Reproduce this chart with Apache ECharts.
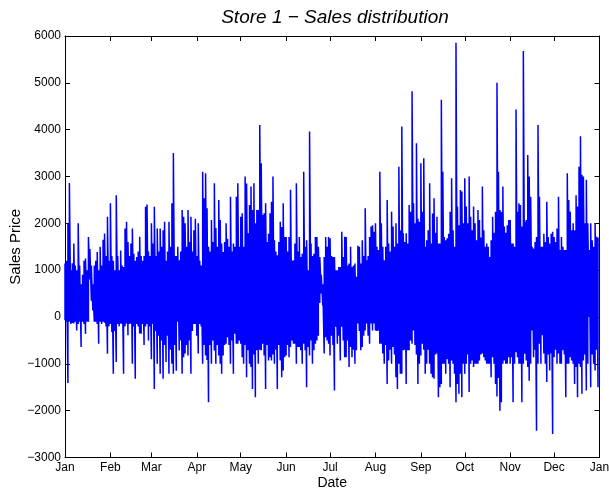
<!DOCTYPE html>
<html>
<head>
<meta charset="utf-8">
<script src="https://cdn.jsdelivr.net/npm/echarts@6/dist/echarts.min.js"></script>
<style>
  html, body { margin: 0; padding: 0; background: #ffffff; }
  #chart { width: 609px; height: 491px; }
</style>
</head>
<body>
<div id="chart"></div>
<script>
// Month tick labels and the day-of-year where each month starts
const monthLabels = ['Jan', 'Feb', 'Mar', 'Apr', 'May', 'Jun', 'Jul', 'Aug', 'Sep', 'Oct', 'Nov', 'Dec', 'Jan'];
const monthStarts = [0, 31, 59, 90, 120, 151, 181, 212, 243, 273, 304, 334, 365];

// Highest sale price recorded on each day of the year (day 0 = Jan 1)
const dailyHigh = [
  1140, 1200, 2000, 2860, 1000, 1150, 1570, 1100, 1000, 2000,
  1100, 700, 900, 1200, 1250, 1000, 1710, 1450, 1100, 700,
  1100, 1200, 1390, 1000, 1500, 1100, 1650, 1785, 1300, 2140,
  1200, 2430, 1300, 1200, 1000, 2600, 1300, 1000, 1420, 1100,
  1070, 1890, 2035, 1600, 1300, 1570, 1890, 1350, 1200, 1280,
  1400, 1713, 1300, 1200, 1300, 2356, 2400, 1400, 1300, 2000,
  1570, 2356, 1300, 1890, 1400, 1890, 1500, 1850, 2035, 1200,
  1400, 2035, 1500, 2430, 3500, 1300, 1300, 1500, 1210, 1400,
  2285, 2140, 2000, 1500, 2285, 1600, 2140, 1400, 1850, 2100,
  1300, 2000, 1200, 1100, 3100, 2535, 3070, 2320, 1500, 1400,
  2070, 1600, 2856, 1900, 1500, 2500, 2070, 1570, 1390, 1600,
  2000, 1670, 1500, 2570, 1400, 1570, 1500, 2570, 2856, 1500,
  2140, 2213, 1500, 3000, 2850, 1790, 2390, 2785, 2285, 2856,
  2000, 2285, 2285, 4100, 3285, 2180, 2213, 2430, 1600, 1780,
  2213, 2460, 3000, 1640, 1400, 1320, 1600, 2035, 1920, 2430,
  1710, 1710, 1400, 1710, 2715, 1200, 1210, 1570, 2856, 1400,
  1710, 1280, 1350, 3100, 1500, 1640, 1000, 3960, 1570, 1300,
  1350, 1710, 1710, 1500, 1280, 900, 700, 1280, 1710, 1500,
  1710, 1680, 1300, 1280, 1280, 1000, 1000, 1070, 1070, 1820,
  1280, 1714, 1710, 1100, 1140, 1500, 1070, 1100, 1140, 860,
  1520, 1500, 1140, 1640, 1300, 2320, 1210, 1300, 1710, 1930,
  1960, 1820, 2000, 1500, 1430, 3100, 2000, 1500, 1210, 1500,
  2500, 1570, 1400, 2250, 1930, 1500, 2000, 1570, 3210, 1850,
  4070, 1790, 1600, 1790, 1570, 2390, 2250, 4820, 2430, 2000,
  3710, 2100, 2035, 3285, 2250, 3390, 1500, 1640, 1850, 2856,
  1570, 2210, 2535, 1800, 2140, 1570, 1570, 4640, 3100, 1710,
  1640, 1680, 1780, 2250, 2960, 1850, 1500, 5855, 2360, 1960,
  2710, 2680, 2000, 2960, 2360, 2000, 3000, 2140, 1850, 2360,
  2000, 1640, 2285, 2070, 1700, 2785, 1850, 1500, 1570, 1500,
  1280, 1640, 2140, 1800, 2250, 5000, 3100, 2285, 2250, 2785,
  1930, 1800, 1960, 2070, 2070, 1570, 1570, 1500, 4430, 2250,
  2430, 2390, 1930, 5680, 2035, 2070, 3460, 3000, 2570, 1500,
  1460, 1600, 1710, 4100, 2570, 1500, 1500, 1780, 1600, 2460,
  1710, 1570, 1780, 1820, 1710, 1600, 1890, 2570, 1430, 1710,
  1500, 1430, 1430, 3070, 2500, 2250, 1850, 2000, 1850, 2600,
  2360, 3210, 3860, 3035, 3000, 2000, 2930, 2000, 1430, 2000,
  1640, 1500, 2000, 1714, 1700
];

// Lowest sale price (returns go negative) recorded on each day
const dailyLow = [
  -70, -100, -1410, -100, -150, -130, -140, -100, -290, -150,
  -100, -640, -100, -150, -360, -100, -100, 800, 350, 140,
  -100, -100, -150, -570, -100, -150, -100, -120, -200, -785,
  -200, -150, -320, -1210, -300, -960, -150, -200, -140, -150,
  -1210, -200, -140, -390, -150, -140, -1000, -200, -1320, -150,
  -200, -350, -360, -150, -600, -200, -150, -500, -200, -900,
  -150, -1535, -300, -1000, -400, -1210, -500, -1320, -600, -960,
  -400, -1210, -700, -1000, -1210, -600, -1150, -100, -714, -500,
  -1210, -860, -780, -600, -820, -500, -1210, -300, -150, -150,
  -400, -780, -150, -200, -1000, -600, -820, -920, -1820, -600,
  -1000, -500, -714, -1000, -600, -820, -1000, -1210, -820, -600,
  -570, -430, -600, -1000, -500, -1210, -360, -570, -570, -500,
  -570, -860, -1000, -600, -1285, -710, -1000, -1070, -1535, -800,
  -1714, -710, -1000, -700, -710, -570, -820, -1535, -600, -930,
  -860, -930, -800, -1000, -700, -1535, -600, -930, -1285, -1140,
  -860, -820, -600, -860, -640, -500, -570, -570, -1000, -640,
  -640, -710, -1000, -570, -710, -1500, -640, -820, -500, -1000,
  -710, -570, -500, -400, 300, 500, 250, -780, -430, -500,
  -570, -820, -400, -600, -1570, -210, -570, -400, -930, -210,
  -500, -860, -860, -500, -1070, -640, -860, -700, -1000, -710,
  -140, -300, -710, -640, -400, -290, -140, -400, -570, -140,
  -290, -140, -290, -300, -290, -570, -570, -780, -1000, -600,
  -1430, -930, -700, -1000, -640, -800, -1285, -1535, -1000, -1210,
  -1210, -710, -700, -1430, -710, -710, -500, -570, -290, -600,
  -800, -1430, -1000, -820, -570, -700, -1210, -1000, -700, -1000,
  -1210, -1285, -1320, -800, -780, -1714, -1500, -1430, -1000, -1000,
  -1210, -900, -1000, -1500, -930, -1000, -1210, -1820, -1430, -1640,
  -1210, -1714, -1000, -1210, -1000, -800, -1600, -1000, -930, -1070,
  -1000, -1000, -1000, -930, -800, -780, -860, -930, -1000, -1000,
  -1000, -1285, -860, -1000, -1430, -1700, -1300, -2000, -1820, -1000,
  -930, -1000, -1000, -860, -1000, -860, -1820, -1000, -750, -860,
  -1000, -1000, -1820, -1000, -785, -930, -1070, -1360, -1000, -290,
  -860, -700, -2430, -1000, -570, -1000, -390, -780, -1000, -1390,
  -800, -1140, -780, -2500, -860, -700, -1000, -780, -1000, -1000,
  -710, -800, -1714, -1000, -1000, -860, -930, -1000, -1430, -1070,
  -1714, -1000, -1070, -1640, -930, -800, -1570, -1000, 0, -1500,
  -800, -1000, -1140, -700, -1500
];

// Each day is drawn as a stroke from its low to its high sale
const salesPoints = [];
dailyHigh.forEach((high, day) => {
  salesPoints.push([day, dailyLow[day]], [day, high]);
});

const FONT = '"Liberation Sans", Arial, Helvetica, sans-serif';
const INK = '#000000';

function signed(v) {
  return v < 0 ? '\u2212' + Math.abs(v) : String(v);
}

const frameLine = { show: true, onZero: false, lineStyle: { color: INK, width: 1 } };
const innerTick = { show: true, inside: true, length: 5, lineStyle: { color: INK, width: 1 } };

const chart = echarts.init(document.getElementById('chart'), null, { renderer: 'canvas' });
chart.setOption({
  animation: false,
  backgroundColor: '#ffffff',
  graphic: [{
    type: 'text',
    x: 335,
    y: 18,
    style: {
      text: 'Store 1 \u2212 Sales distribution',
      font: 'italic 19px ' + FONT,
      fill: INK,
      textAlign: 'center',
      textVerticalAlign: 'middle'
    }
  }],
  grid: {
    left: 65, right: 9.5, top: 36, bottom: 33.5,
    containLabel: false,
    outerBoundsMode: 'none'
  },
  xAxis: [{
    type: 'value',
    position: 'bottom',
    min: 0,
    max: 365,
    axisLine: frameLine,
    axisTick: Object.assign({}, innerTick, { customValues: monthStarts }),
    axisLabel: {
      customValues: monthStarts,
      color: INK,
      fontFamily: FONT,
      fontSize: 12,
      margin: 4,
      formatter: (v) => monthLabels[monthStarts.indexOf(v)]
    },
    splitLine: { show: false },
    name: 'Date',
    nameLocation: 'middle',
    nameMoveOverlap: false,
    nameGap: 19,
    nameTextStyle: { color: INK, fontFamily: FONT, fontSize: 14 }
  }, {
    type: 'value',
    position: 'top',
    min: 0,
    max: 365,
    axisLine: frameLine,
    axisTick: Object.assign({}, innerTick, { customValues: monthStarts }),
    axisLabel: { show: false },
    splitLine: { show: false }
  }],
  yAxis: [{
    type: 'value',
    position: 'left',
    min: -3000,
    max: 6000,
    interval: 1000,
    axisLine: frameLine,
    axisTick: innerTick,
    axisLabel: {
      color: INK,
      fontFamily: FONT,
      fontSize: 12,
      margin: 4,
      formatter: signed
    },
    splitLine: { show: false },
    name: 'Sales Price',
    nameLocation: 'middle',
    nameMoveOverlap: false,
    nameGap: 42,
    nameTextStyle: { color: INK, fontFamily: FONT, fontSize: 15 }
  }, {
    type: 'value',
    position: 'right',
    min: -3000,
    max: 6000,
    interval: 1000,
    axisLine: frameLine,
    axisTick: innerTick,
    axisLabel: { show: false },
    splitLine: { show: false }
  }],
  series: [{
    type: 'line',
    xAxisIndex: 0,
    yAxisIndex: 0,
    data: salesPoints,
    showSymbol: false,
    symbol: 'none',
    sampling: null,
    clip: true,
    lineStyle: { color: '#0000ff', width: 1.5 },
    emphasis: { disabled: true }
  }]
});
</script>
</body>
</html>
